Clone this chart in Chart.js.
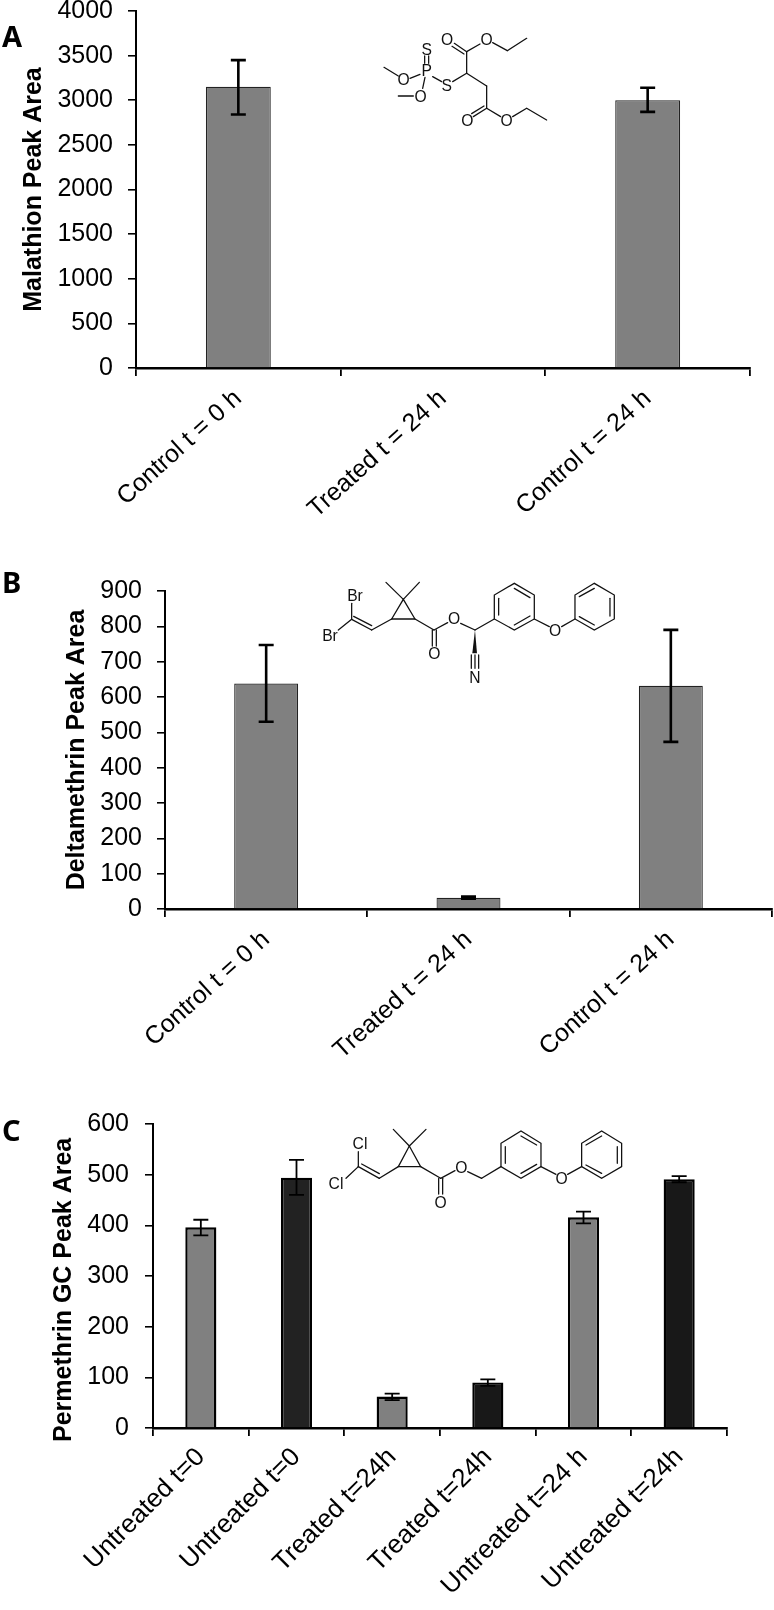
<!DOCTYPE html>
<html><head><meta charset="utf-8">
<script src="https://cdn.jsdelivr.net/npm/chart.js@4"></script>
<style>
html,body{margin:0;padding:0;background:#fff}
#page{position:relative;width:774px;height:1610px;overflow:hidden;background:#fff}
canvas{position:absolute;left:0}
svg{position:absolute;left:0;top:0}
svg line,svg polygon.o{stroke:#111;stroke-width:3.8;fill:none;stroke-linecap:round}
svg text.a{font-family:"Liberation Sans",sans-serif;font-size:47px;fill:#111;text-anchor:middle;dominant-baseline:central}
svg text.p{font-family:"Noto Sans",sans-serif;font-weight:700;font-size:29px;fill:#000}
</style></head><body>
<div id="page">
<canvas id="a" width="774" height="540" style="top:0"></canvas>
<canvas id="b" width="774" height="550" style="top:540px"></canvas>
<canvas id="c" width="774" height="520" style="top:1090px"></canvas>
<svg width="774" height="1610" viewBox="0 0 774 1610">
<text class="p" x="2" y="47">A</text>
<text class="p" x="2" y="593">B</text>
<text class="p" x="2" y="1141">C</text>
<g transform="translate(360,20) scale(.3333)">
<line x1="72" y1="142" x2="115" y2="168"/><line x1="150" y1="175" x2="180" y2="163"/>
<line x1="194" y1="130" x2="194" y2="108"/><line x1="206" y1="130" x2="206" y2="108"/>
<line x1="195" y1="172" x2="188" y2="205"/><line x1="115" y1="228" x2="160" y2="228"/>
<line x1="218" y1="170" x2="245" y2="185"/><line x1="278" y1="185" x2="320" y2="160"/>
<line x1="320" y1="160" x2="320" y2="95"/><line x1="320" y1="95" x2="283" y2="70"/><line x1="312" y1="102" x2="276" y2="79"/>
<line x1="320" y1="95" x2="360" y2="72"/><line x1="398" y1="68" x2="442" y2="92"/><line x1="442" y1="92" x2="500" y2="55"/>
<line x1="320" y1="160" x2="380" y2="198"/><line x1="380" y1="198" x2="380" y2="265"/>
<line x1="380" y1="265" x2="340" y2="290"/><line x1="372" y1="258" x2="335" y2="281"/>
<line x1="380" y1="265" x2="422" y2="290"/><line x1="458" y1="290" x2="500" y2="265"/><line x1="500" y1="265" x2="560" y2="300"/>
<text class="a" x="200" y="90">S</text><text class="a" x="200" y="152">P</text><text class="a" x="131" y="180">O</text>
<text class="a" x="182" y="229">O</text><text class="a" x="260" y="196">S</text><text class="a" x="261" y="58">O</text>
<text class="a" x="380" y="58">O</text><text class="a" x="322" y="302">O</text><text class="a" x="440" y="302">O</text>
</g>
<g transform="translate(310,570) scale(.3333)">
<line x1="125" y1="148" x2="125" y2="100"/><line x1="125" y1="148" x2="85" y2="180"/>
<line x1="125" y1="148" x2="185" y2="180"/><line x1="131" y1="139" x2="185" y2="167"/><line x1="185" y1="180" x2="245" y2="147"/>
<polygon class="o" points="245,147 280,88 315,147"/>
<line x1="280" y1="88" x2="228" y2="37"/><line x1="280" y1="88" x2="328" y2="37"/>
<line x1="315" y1="147" x2="372" y2="180"/><line x1="367" y1="180" x2="367" y2="228"/><line x1="379" y1="180" x2="379" y2="228"/>
<line x1="372" y1="180" x2="413" y2="158"/><line x1="452" y1="160" x2="495" y2="180"/>
<polygon points="495,180 487,250 501,250" fill="#111"/>
<line x1="484" y1="255" x2="484" y2="295"/><line x1="495" y1="255" x2="495" y2="295"/><line x1="506" y1="255" x2="506" y2="295"/>
<line x1="495" y1="180" x2="553" y2="147"/>
<polygon class="o" points="553,147 553,75 613,40 673,75 673,147 613,180"/>
<line x1="566" y1="135" x2="566" y2="85"/><line x1="613" y1="55" x2="660" y2="83"/><line x1="613" y1="165" x2="660" y2="138"/>
<line x1="673" y1="147" x2="718" y2="170"/><line x1="755" y1="170" x2="795" y2="147"/>
<polygon class="o" points="795,147 795,75 853,40 913,75 913,147 853,180"/>
<line x1="808" y1="80" x2="853" y2="55"/><line x1="900" y1="85" x2="900" y2="138"/><line x1="853" y1="165" x2="808" y2="140"/>
<text class="a" x="135" y="78">Br</text><text class="a" x="60" y="197">Br</text><text class="a" x="373" y="252">O</text>
<text class="a" x="432" y="147">O</text><text class="a" x="495" y="322">N</text><text class="a" x="735" y="182">O</text>
</g>
<g transform="translate(320,1120) scale(.3333)">
<line x1="115" y1="140" x2="115" y2="95"/><line x1="115" y1="140" x2="78" y2="175"/>
<line x1="115" y1="140" x2="178" y2="175"/><line x1="125" y1="132" x2="178" y2="161"/><line x1="178" y1="175" x2="235" y2="140"/>
<polygon class="o" points="235,140 268,78 302,140"/>
<line x1="268" y1="78" x2="220" y2="28"/><line x1="268" y1="78" x2="318" y2="28"/>
<line x1="302" y1="140" x2="362" y2="175"/><line x1="356" y1="175" x2="356" y2="222"/><line x1="368" y1="175" x2="368" y2="222"/>
<line x1="362" y1="175" x2="405" y2="152"/><line x1="443" y1="155" x2="485" y2="175"/><line x1="485" y1="175" x2="543" y2="140"/>
<polygon class="o" points="543,140 543,70 603,33 663,70 663,140 603,175"/>
<line x1="556" y1="130" x2="556" y2="80"/><line x1="603" y1="48" x2="650" y2="75"/><line x1="603" y1="160" x2="650" y2="133"/>
<line x1="663" y1="140" x2="708" y2="163"/><line x1="743" y1="163" x2="785" y2="140"/>
<polygon class="o" points="785,140 785,70 845,33 905,70 905,140 845,175"/>
<line x1="798" y1="75" x2="845" y2="48"/><line x1="892" y1="80" x2="892" y2="130"/><line x1="845" y1="160" x2="798" y2="135"/>
<text class="a" x="120" y="70">Cl</text><text class="a" x="48" y="190">Cl</text><text class="a" x="362" y="247">O</text>
<text class="a" x="424" y="142">O</text><text class="a" x="725" y="176">O</text>
</g>
</svg>
</div>
<script>
// Panel A — Malathion
const categoriesA = ["Control t = 0 h", "Treated t = 24 h", "Control t = 24 h"];
const valuesA = [3150, 0, 3000];
const errLowA = [2840, 0, 2870];
const errHighA = [3450, 0, 3140];
// Panel B — Deltamethrin
const categoriesB = ["Control t = 0 h", "Treated t = 24 h", "Control t = 24 h"];
const valuesB = [638, 32, 632];
const errLowB = [530, 29, 473];
const errHighB = [747, 35, 790];
// Panel C — Permethrin
const categoriesC = ["Untreated t=0", "Untreated t=0", "Treated t=24h", "Treated t=24h", "Untreated t=24 h", "Untreated t=24h"];
const valuesC = [396, 494, 62, 90, 416, 491];
const errLowC = [380, 460, 55, 83, 404, 485];
const errHighC = [411, 529, 68, 96, 427, 497];
const fillsC = ["#808080", "#222222", "#808080", "#181818", "#808080", "#181818"];

const errorBars = {
  id: "errorBars",
  afterDatasetsDraw(chart, args, o) {
    const {ctx} = chart, y = chart.scales.y, meta = chart.getDatasetMeta(0);
    ctx.save();
    ctx.strokeStyle = "#000"; ctx.lineWidth = o.lineWidth;
    o.low.forEach((lo, i) => {
      const hi = o.high[i];
      if (lo === hi) return;
      const x = meta.data[i].x, a = y.getPixelForValue(lo), b = y.getPixelForValue(hi);
      ctx.beginPath();
      ctx.moveTo(x, a); ctx.lineTo(x, b);
      ctx.moveTo(x - o.cap, a); ctx.lineTo(x + o.cap, a);
      ctx.moveTo(x - o.cap, b); ctx.lineTo(x + o.cap, b);
      ctx.stroke();
    });
    ctx.restore();
  }
};

function panel(id, cfg) {
  const c = document.getElementById(id);
  new Chart(c, {
    type: "bar",
    data: {labels: cfg.labels, datasets: [{
      data: cfg.values, backgroundColor: cfg.fill, borderColor: cfg.edge, borderWidth: cfg.edgeW,
      barPercentage: cfg.barPct, categoryPercentage: 1
    }]},
    plugins: [errorBars],
    options: {
      responsive: false, animation: false,
      layout: {padding: {left: cfg.left, right: c.width - cfg.xEnd, top: cfg.yTop, bottom: 0}},
      plugins: {legend: {display: false}, tooltip: {enabled: false},
        errorBars: {low: cfg.low, high: cfg.high, cap: cfg.cap, lineWidth: cfg.errW}},
      scales: {
        x: {
          grid: {display: true, drawOnChartArea: false, offset: true, color: "#000", lineWidth: 1.8, tickLength: 8},
          border: {display: true, color: "#000", width: 2.6},
          ticks: {color: "#000", font: {family: "Liberation Sans", size: cfg.xFont}, minRotation: cfg.rot, maxRotation: cfg.rot,
                  autoSkip: false, padding: cfg.xPad},
          afterFit(s) { s.height = c.height - cfg.yBottom; s.paddingLeft = 0; s.paddingRight = 0; }
        },
        y: {
          min: 0, max: cfg.max,
          grid: {display: true, drawOnChartArea: false, color: "#000", lineWidth: 1.6, tickLength: 8},
          border: {display: true, color: "#000", width: 2},
          ticks: {color: "#000", stepSize: cfg.step, font: {family: "Liberation Sans", size: 25}, padding: cfg.yPad,
                  callback: v => String(v)},
          title: {display: true, text: cfg.title, color: "#000", padding: 0,
                  font: {family: "Liberation Sans", size: 25, weight: "bold", lineHeight: 1.2}},
          afterFit(s) { s.width = cfg.xStart - cfg.left; s.paddingTop = 0; s.paddingBottom = 0; }
        }
      }
    }
  });
}

panel("a", {labels: categoriesA, values: valuesA, low: errLowA, high: errHighA, fill: "#808080", edge: "#222",
  edgeW: 1.2, barPct: .317, cap: 7.5, errW: 2.6, max: 4000, step: 500, title: "Malathion Peak Area",
  left: 19, xStart: 136, xEnd: 750, yTop: 11, yBottom: 368, xPad: 8, yPad: 15, xFont: 25, rot: 42});
panel("b", {labels: categoriesB, values: valuesB, low: errLowB, high: errHighB, fill: "#808080", edge: "#222",
  edgeW: 1.2, barPct: .316, cap: 7.5, errW: 2.6, max: 900, step: 100, title: "Deltamethrin Peak Area",
  left: 62, xStart: 165, xEnd: 772, yTop: 51, yBottom: 369, xPad: 8, yPad: 15, xFont: 25, rot: 42});
panel("c", {labels: categoriesC, values: valuesC, low: errLowC, high: errHighC, fill: fillsC, edge: "#000",
  edgeW: 2.4, barPct: .325, cap: 7.5, errW: 1.8, max: 600, step: 100,
  title: "Permethrin GC Peak Area\u00a0\u00a0\u00a0\u00a0",
  left: 49, xStart: 153, xEnd: 727, yTop: 34, yBottom: 338, xPad: 6, yPad: 16, xFont: 26, rot: 45});
</script>
</body></html>
